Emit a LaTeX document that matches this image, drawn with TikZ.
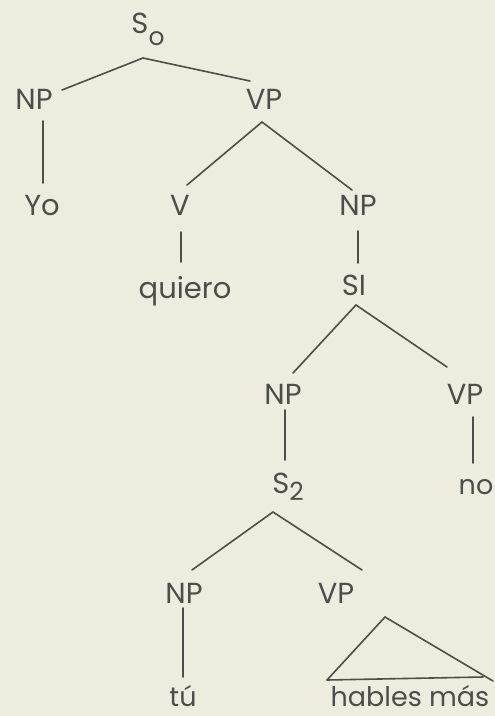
\documentclass[tikz,border=0pt]{standalone}
\usepackage{fontspec}
\setmainfont{Poppins}
\definecolor{paper}{RGB}{237,236,223}
\definecolor{ink}{RGB}{78,78,72}
% lowered index after a category letter
\newcommand{\subs}[2]{\raisebox{-#2}{\fontsize{25}{25}\selectfont #1}}
\begin{document}
\begin{tikzpicture}[x=1pt,y=-1pt,
  lbl/.style={text=ink,font=\fontsize{29}{29}\selectfont,inner sep=0pt,anchor=base},
  word/.style={lbl,font=\fontsize{27}{27}\selectfont},
  branch/.style={draw=ink,line width=1.6pt,line cap=round}]
\fill[paper] (0,0) rectangle (495,716);
\useasboundingbox (0,0) rectangle (495,716);

% labels (placed by their baselines)
\node[lbl] (So)  at (148,33)  {S\subs{o}{12pt}};
\node[lbl] (NP1) at (34,109)  {NP};
\node[lbl] (VP1) at (264,109) {VP};
\node[lbl] (Yo)  at (42,215)  {Yo};
\node[lbl] (V)   at (180,215) {V};
\node[lbl] (NP2) at (358,215) {NP};
\node[lbl] (qu)  at (185,298) {quiero};
\node[lbl] (SI)  at (354,295) {SI};
\node[lbl] (NP3) at (283,404) {NP};
\node[lbl] (VP3) at (465,404) {VP};
\node[lbl] (S2)  at (288,493) {S\subs{2}{7pt}};
\node[word] (no) at (476,494) {no};
\node[lbl] (NP4) at (184,603) {NP};
\node[lbl] (VP4) at (336,603) {VP};
\node[word] (tu) at (183,706) {tú};
\node[word] (hm) at (410,706) {hables más};

% branch end points
\coordinate (So-b)  at (143,58);
\coordinate (NP1-t) at (62,90);
\coordinate (VP1-t) at (250,81);
\coordinate (NP1-b) at (43,121);
\coordinate (Yo-t)  at (43,183);
\coordinate (VP1-b) at (262,122);
\coordinate (V-t)   at (187,185);
\coordinate (NP2-t) at (352,190);
\coordinate (V-b)   at (181,232);
\coordinate (qu-t)  at (181,262);
\coordinate (NP2-b) at (358,231);
\coordinate (SI-t)  at (358,263);
\coordinate (SI-b)  at (356,305);
\coordinate (NP3-t) at (293,373);
\coordinate (VP3-t) at (447,367);
\coordinate (NP3-b) at (285,410);
\coordinate (S2-t)  at (285,460);
\coordinate (VP3-b) at (473,417);
\coordinate (no-t)  at (473,463);
\coordinate (S2-b)  at (273,512);
\coordinate (NP4-t) at (192,570);
\coordinate (VP4-t) at (362,570);
\coordinate (NP4-b) at (183,608);
\coordinate (tu-t)  at (183,677);
\coordinate (VP4-b) at (385,617);
\coordinate (tri-l) at (327,680);
\coordinate (tri-r) at (493,681);
\coordinate (base-r) at (483,677);

% branches
\draw[branch] (So-b) -- (NP1-t);
\draw[branch] (So-b) -- (VP1-t);
\draw[branch] (NP1-b) -- (Yo-t);
\draw[branch] (VP1-b) -- (V-t);
\draw[branch] (VP1-b) -- (NP2-t);
\draw[branch] (V-b) -- (qu-t);
\draw[branch] (NP2-b) -- (SI-t);
\draw[branch] (SI-b) -- (NP3-t);
\draw[branch] (SI-b) -- (VP3-t);
\draw[branch] (NP3-b) -- (S2-t);
\draw[branch] (VP3-b) -- (no-t);
\draw[branch] (S2-b) -- (NP4-t);
\draw[branch] (S2-b) -- (VP4-t);
\draw[branch] (NP4-b) -- (tu-t);
% roof over the phrase
\draw[branch] (tri-l) -- (VP4-b) -- (tri-r);
\draw[branch] (tri-l) -- (base-r);
\end{tikzpicture}
\end{document}
